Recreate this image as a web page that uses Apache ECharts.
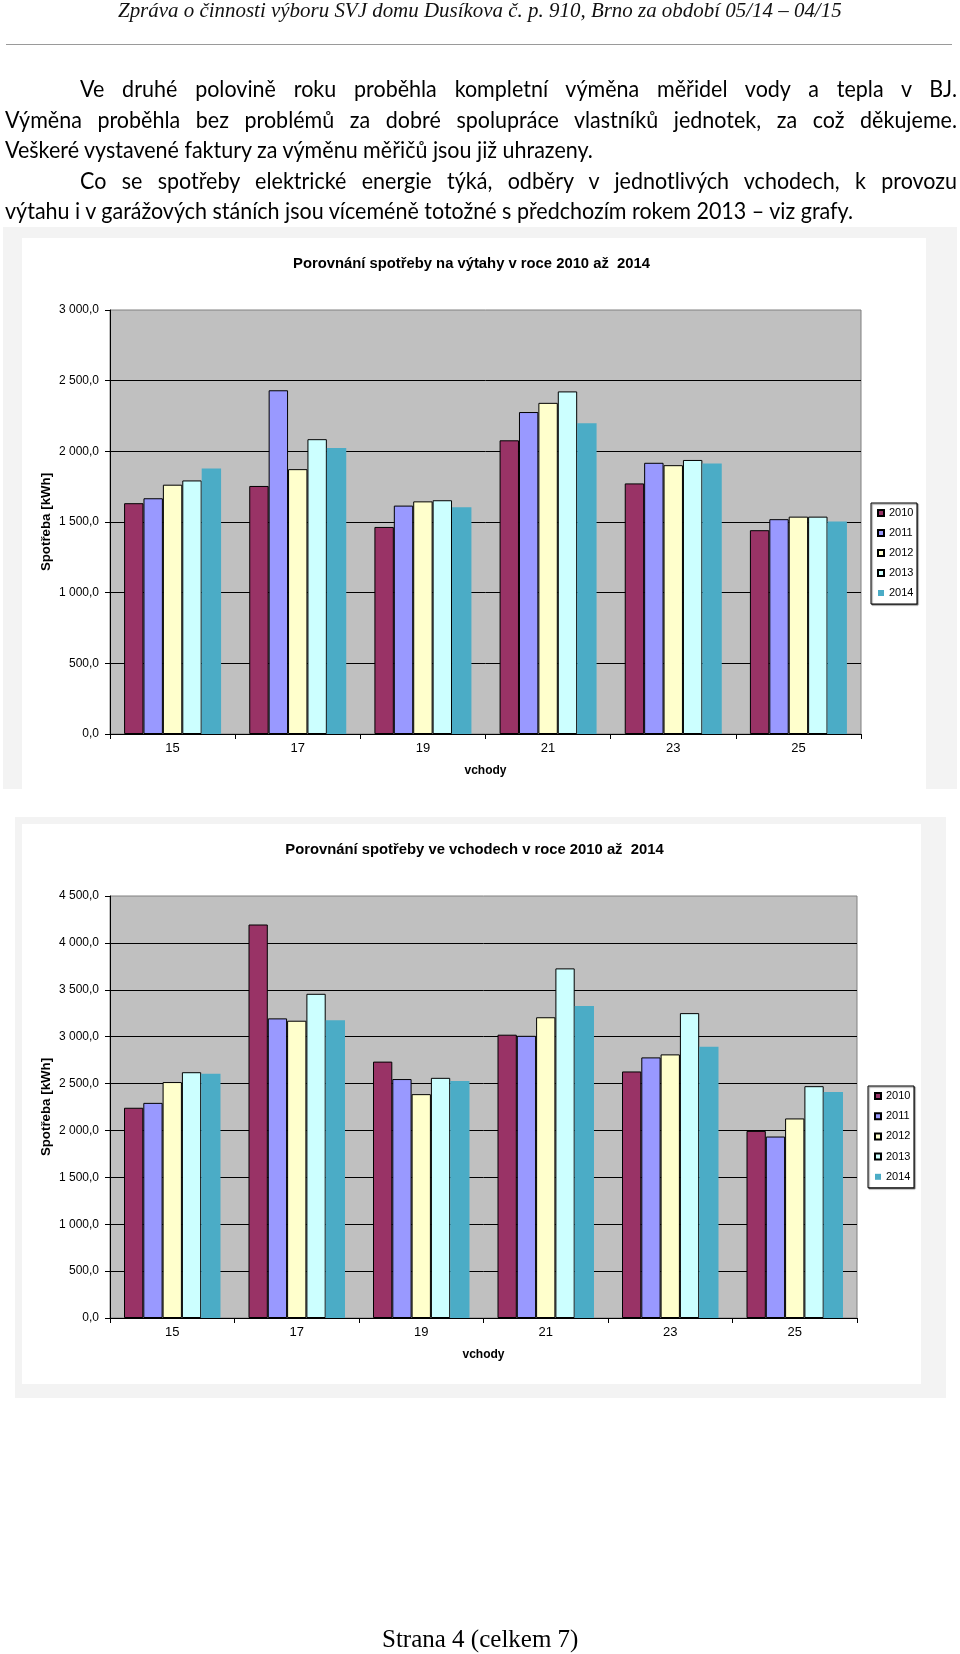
<!DOCTYPE html>
<html lang="cs">
<head>
<meta charset="utf-8">
<script src="https://cdn.jsdelivr.net/npm/echarts@6.0.0/dist/echarts.min.js"></script>
<style>
  html, body { margin: 0; padding: 0; background: #fff; }
  #page { position: relative; width: 960px; height: 1654px; background: #fff; overflow: hidden; }
  .box { position: absolute; }
  .ln { position: absolute; white-space: nowrap; color: #000; transform-origin: 0 0; }
  .para { font-family: Lato, "Open Sans", sans-serif; font-size: 23.5px; line-height: 23.5px; }
  #hdr { font-family: "Liberation Serif", serif; font-style: italic; font-size: 21px; line-height: 21px; color: #111; }
  #ftr { font-family: "Liberation Serif", serif; font-size: 25px; line-height: 25px; }
  #chart { position: absolute; left: 0; top: 0; width: 960px; height: 1654px; }
</style>
</head>
<body>
<div id="page">
  <div class="box" style="left:3px;top:227px;width:954px;height:562px;background:#f3f3f3"></div>
  <div class="box" style="left:22px;top:238px;width:904px;height:551px;background:#fff"></div>
  <div class="box" style="left:15px;top:817px;width:931px;height:581px;background:#f3f3f3"></div>
  <div class="box" style="left:22px;top:824px;width:899px;height:560px;background:#fff"></div>
  <div class="box" style="left:6px;top:44px;width:946px;height:1px;background:#9a9a9a"></div>
  <div id="chart"></div>
  <div id="hdr" class="ln"></div>
  <div id="l1" class="ln para"></div>
  <div id="l2" class="ln para"></div>
  <div id="l3" class="ln para"></div>
  <div id="l4" class="ln para"></div>
  <div id="l5" class="ln para"></div>
  <div id="ftr" class="ln"></div>
</div>
<script>
// ---------- data ----------
const categories = ['15', '17', '19', '21', '23', '25'];
const years = ['2010', '2011', '2012', '2013', '2014'];

// Chart 1: Porovnání spotřeby na výtahy (kWh)
const lift2010 = [1633, 1755, 1465, 2078, 1773, 1442];
const lift2011 = [1668, 2432, 1616, 2278, 1919, 1520];
const lift2012 = [1764, 1874, 1646, 2343, 1902, 1538];
const lift2013 = [1794, 2086, 1654, 2424, 1939, 1538];
const lift2014 = [1878, 2023, 1604, 2199, 1914, 1503];

// Chart 2: Porovnání spotřeby ve vchodech (kWh)
const ent2010 = [2242, 4196, 2734, 3021, 2629, 1995];
const ent2011 = [2294, 3195, 2548, 3009, 2779, 1935];
const ent2012 = [2516, 3170, 2387, 3207, 2811, 2128];
const ent2013 = [2621, 3457, 2561, 3728, 3251, 2472];
const ent2014 = [2605, 3175, 2528, 3328, 2892, 2411];

const title1 = 'Porovnání spotřeby na výtahy v roce 2010 až  2014';
const title2 = 'Porovnání spotřeby ve vchodech v roce 2010 až  2014';
const xName = 'vchody';
const yName = 'Spotřeba [kWh]';

const headerText = 'Zpráva o činnosti výboru SVJ domu Dusíkova č. p. 910, Brno za období 05/14 – 04/15';
const paraLines = [
  'Ve druhé polovině roku proběhla kompletní výměna měřidel vody a tepla v BJ.',
  'Výměna proběhla bez problémů za dobré spolupráce vlastníků jednotek, za což děkujeme.',
  'Veškeré vystavené faktury za výměnu měřičů jsou již uhrazeny.',
  'Co se spotřeby elektrické energie týká, odběry v jednotlivých vchodech, k provozu',
  'výtahu i v garážových stáních jsou víceméně totožné s předchozím rokem 2013 – viz grafy.'
];
const footerText = 'Strana 4 (celkem 7)';

// ---------- chart ----------
const colors = ['#993366', '#9999FF', '#FFFFCC', '#CCFFFF', '#4BACC6'];
const FONT = 'Liberation Sans';

function fmt(v) {
  const s = Number(v).toFixed(1);
  const parts = s.split('.');
  return parts[0].replace(/\B(?=(\d{3})+(?!\d))/g, ' ') + ',' + parts[1];
}

function mkSeries(name, data, idx, gi) {
  const border = idx < 4;
  return {
    type: 'bar', name: name, data: data,
    xAxisIndex: gi, yAxisIndex: gi,
    barGap: '0%', barCategoryGap: '22.5%',
    itemStyle: { color: colors[idx], borderColor: border ? '#000' : colors[idx], borderWidth: border ? 1 : 0 },
    emphasis: { disabled: true },
    animation: false
  };
}

function mkX(gi) {
  return {
    gridIndex: gi, type: 'category', data: categories,
    axisLine: { show: true, lineStyle: { color: '#000', width: 1 } },
    axisTick: { show: true, length: 5, interval: 0, lineStyle: { color: '#000' } },
    axisLabel: { color: '#000', fontSize: 13, fontFamily: FONT, margin: 8 },
    splitLine: { show: false },
    name: xName, nameLocation: 'middle', nameGap: 31, nameMoveOverlap: false,
    nameTextStyle: { color: '#000', fontSize: 12, fontWeight: 'bold', fontFamily: FONT }
  };
}

function mkY(gi, max) {
  return {
    gridIndex: gi, type: 'value', min: 0, max: max, interval: 500,
    axisLine: { show: true, lineStyle: { color: '#000', width: 1 } },
    axisTick: { show: true, length: 5, lineStyle: { color: '#000' } },
    axisLabel: { formatter: fmt, color: '#000', fontSize: 12, fontFamily: FONT, margin: 11 },
    splitLine: { show: true, showMaxLine: false, lineStyle: { color: '#000', width: 1 } },
    name: yName, nameLocation: 'middle', nameRotate: 90, nameGap: 57, nameMoveOverlap: false,
    nameTextStyle: { color: '#000', fontSize: 13.3, fontWeight: 'bold', fontFamily: FONT }
  };
}

function mkLegend(left, top, gap) {
  return {
    data: years, orient: 'vertical', left: left, top: top,
    icon: 'rect', itemWidth: 6, itemHeight: 6, itemGap: gap,
    padding: [4.5, 3.5, 5.5, 6],
    backgroundColor: '#fff', borderColor: '#000', borderWidth: 1,
    shadowColor: 'rgba(0,0,0,0.5)', shadowOffsetX: 1, shadowOffsetY: 1, shadowBlur: 1,
    selectedMode: false,
    textStyle: { color: '#000', fontSize: 11, fontFamily: FONT }
  };
}

const chart = echarts.init(document.getElementById('chart'), null, { renderer: 'canvas' });
chart.setOption({
  backgroundColor: 'transparent',
  animation: false,
  grid: [
    { left: 110, top: 310, width: 751, height: 424, show: true, backgroundColor: '#C0C0C0', borderColor: '#808080', borderWidth: 1, containLabel: false },
    { left: 110, top: 896, width: 747, height: 422, show: true, backgroundColor: '#C0C0C0', borderColor: '#808080', borderWidth: 1, containLabel: false }
  ],
  xAxis: [mkX(0), mkX(1)],
  yAxis: [mkY(0, 3000), mkY(1, 4500)],
  legend: [mkLegend(871, 503, 9), mkLegend(868, 1086, 9.2)],
  graphic: [
    { type: 'text', x: 471.5, y: 264, z: 100, style: { text: title1, align: 'center', verticalAlign: 'middle', fill: '#000', font: 'bold 14.8px "Liberation Sans"' } },
    { type: 'text', x: 474.5, y: 850, z: 100, style: { text: title2, align: 'center', verticalAlign: 'middle', fill: '#000', font: 'bold 14.8px "Liberation Sans"' } }
  ],
  series: [
    mkSeries(years[0], lift2010, 0, 0),
    mkSeries(years[1], lift2011, 1, 0),
    mkSeries(years[2], lift2012, 2, 0),
    mkSeries(years[3], lift2013, 3, 0),
    mkSeries(years[4], lift2014, 4, 0),
    mkSeries(years[0], ent2010, 0, 1),
    mkSeries(years[1], ent2011, 1, 1),
    mkSeries(years[2], ent2012, 2, 1),
    mkSeries(years[3], ent2013, 3, 1),
    mkSeries(years[4], ent2014, 4, 1)
  ]
});

// ---------- page text layout ----------
function baselineOffset(el) {
  const p = document.createElement('span');
  p.style.cssText = 'display:inline-block;width:0;height:0;vertical-align:baseline';
  el.appendChild(p);
  const off = p.getBoundingClientRect().top - el.getBoundingClientRect().top;
  el.removeChild(p);
  return off;
}
function layout() {
  const hdr = document.getElementById('hdr');
  const ftr = document.getElementById('ftr');
  hdr.textContent = headerText;
  ftr.textContent = footerText;
  const pl = [];
  for (let i = 0; i < 5; i++) {
    const el = document.getElementById('l' + (i + 1));
    el.textContent = paraLines[i];
    el.style.transform = 'none';
    el.style.width = 'auto';
    el.style.textAlign = 'left';
    el.style.textAlignLast = 'auto';
    pl.push(el);
  }
  hdr.style.transform = 'none';
  ftr.style.transform = 'none';

  // header
  const sh = 724 / hdr.offsetWidth;
  hdr.style.left = '118px';
  hdr.style.top = (17 - baselineOffset(hdr)) + 'px';
  hdr.style.transform = 'scaleX(' + sh + ')';

  // footer
  const sf = 196 / ftr.offsetWidth;
  ftr.style.left = '382px';
  ftr.style.top = (1647 - baselineOffset(ftr)) + 'px';
  ftr.style.transform = 'scaleX(' + sf + ')';

  // paragraph
  const s = ((543 / pl[2].offsetWidth) + (913 / pl[4].offsetWidth)) / 2;
  const spec = [
    { left: 80, right: 957, base: 97, just: true },
    { left: 5, right: 957, base: 127.5, just: true },
    { left: 5, right: 548, base: 158, just: false },
    { left: 80, right: 957, base: 188.5, just: true },
    { left: 5, right: 918, base: 219, just: false }
  ];
  const bo = baselineOffset(pl[0]);
  spec.forEach(function (sp, i) {
    const el = pl[i];
    el.style.left = sp.left + 'px';
    el.style.top = (sp.base - bo) + 'px';
    if (sp.just) {
      el.style.width = ((sp.right - sp.left) / s) + 'px';
      el.style.textAlign = 'justify';
      el.style.textAlignLast = 'justify';
    }
    el.style.transform = 'scaleX(' + s + ')';
  });
}
layout();
if (document.fonts && document.fonts.ready) { document.fonts.ready.then(layout); }
</script>
</body>
</html>
